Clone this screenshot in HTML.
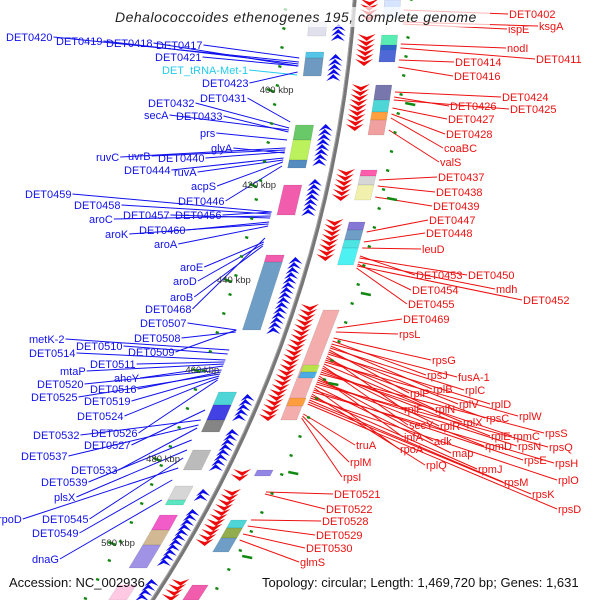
<!DOCTYPE html>
<html><head><meta charset="utf-8">
<style>
html,body{margin:0;padding:0;background:#fff;width:600px;height:600px;overflow:hidden;}
svg{display:block;font-family:"Liberation Sans","DejaVu Sans",sans-serif;overflow:hidden;}
</style></head>
<body>
<svg id="map" width="600" height="600" viewBox="0 0 600 600" xmlns="http://www.w3.org/2000/svg">
<g id="feat"></g>
<g id="lines"></g>
<g id="labs"></g>
<circle cx="-890" cy="-85" r="1247.5" fill="none" stroke="#777" stroke-width="4"/>
<circle cx="-890" cy="-85" r="1246" fill="none" stroke="#aaa" stroke-width="1"/>
<g id="ticks"></g>
<rect x="110" y="7" width="380" height="20" fill="#fff" opacity="0.7"/>
<text x="115" y="22" font-size="14" font-style="italic" fill="#222" letter-spacing="0.5">Dehalococcoides ethenogenes 195, complete genome</text>
<text x="9" y="587" font-size="13" fill="#111">Accession: NC_002936</text>
<text x="262" y="587" font-size="13" fill="#111">Topology: circular; Length: 1,469,720 bp; Genes: 1,631</text>
</svg>
<script>
const CX=-890, CY=-85, R=1247.5;
function arcX(y){return CX+Math.sqrt(R*R-(y-CY)*(y-CY));}
const NS="http://www.w3.org/2000/svg";
function mk(tag,attrs,parent){const e=document.createElementNS(NS,tag);for(const k in attrs)e.setAttribute(k,attrs[k]);parent.appendChild(e);return e;}

const tickLabels=["400 kbp","420 kbp","440 kbp","460 kbp","480 kbp","500 kbp"];
const tickY=[93,188,283,373,462,546];

const blueNames=["DET0420","DET0419","DET0418","DET0417","DET0421","DET_tRNA-Met-1","DET0423","DET0431","DET0432","secA","DET0433","prs","glyA","ruvC","uvrB","DET0440","DET0444","ruvA","acpS","DET0446","DET0459","DET0458","aroC","DET0457","DET0456","DET0460","aroK","aroA","aroE","aroD","aroB","DET0468","DET0507","DET0508","DET0509","metK-2","DET0510","DET0514","DET0511","mtaP","ahcY","DET0520","DET0516","DET0525","DET0519","DET0524","DET0526","DET0532","DET0527","DET0537","DET0533","DET0539","plsX","rpoD","DET0545","DET0549","dnaG"];
const blueX=[6,56,106,156,155,162,202,200,148,144,176,200,211,96,128,158,124,174,191,178,25,74,89,123,175,139,105,154,180,173,170,145,140,134,128,29,76,29,90,60,114,37,90,31,84,77,91,33,84,21,71,41,54,-2,42,32,32];
const blueY=[41,45,47,49,61,74,87,102,107,119,120,137,152,161,160,162,174,176,190,205,198,209,223,219,219,234,238,248,271,285,301,313,327,342,356,343,350,357,368,375,382,388,393,401,405,420,437,439,449,460,474,486,501,523,523,537,563];
const blueT=[62,64,66,58,66,75,72,122,128,130,132,140,153,148,150,152,158,160,162,166,212,214,216,218,212,222,224,226,242,244,246,238,330,332,330,350,354,360,362,364,366,370,372,374,376,378,380,420,410,425,428,440,450,468,458,480,500];

const redNames=["DET0402","ispE","ksgA","nodI","DET0411","DET0414","DET0416","DET0424","DET0426","DET0425","DET0427","DET0428","coaBC","valS","DET0437","DET0438","DET0439","DET0447","DET0448","leuD","DET0453","DET0450","mdh","DET0454","DET0452","DET0455","DET0469","rpsL","rpsG","rpsJ","fusA-1","rplB","rplC","rplP","rplV","rplD","rplF","rplN","rpsC","rplW","rplX","secY","rplR","rplE","rpmC","rpsS","infA","adk","rpmD","rpsN","rpsQ","truA","map","rpoA","rpsE","rpsH","rplM","rplQ","rpmJ","rplO","rpsI","rpsM","rpsK","rpsD","DET0521","DET0522","DET0528","DET0529","DET0530","glmS"];
const redX=[509,508,539,507,536,455,454,502,450,510,448,446,444,440,438,436,433,429,426,422,416,468,496,412,523,408,403,399,432,427,458,433,465,410,459,491,404,435,486,519,463,409,440,491,513,545,404,434,485,518,549,356,452,400,524,555,350,426,478,558,343,504,532,558,334,326,322,316,306,300];
const redY=[18,33,30,52,63,66,80,101,110,113,123,138,152,166,181,196,210,224,237,253,279,279,293,294,304,308,323,338,364,379,381,393,394,397,408,408,413,413,422,420,426,429,430,440,440,437,441,445,450,450,451,449,457,453,464,467,466,469,473,484,481,486,498,513,498,513,525,539,552,566];
const redT=[10,24,22,44,48,60,67,92,97,100,108,114,118,130,180,186,197,232,242,248,256,258,262,264,266,268,328,332,338,341,344,346,348,350,352,354,356,358,360,362,364,366,368,370,372,374,376,378,380,382,384,414,386,388,390,392,416,394,396,398,418,400,402,404,492,494,520,526,534,540];

const featY0=[22,52,58,125,140,160,185,255,262,392,405,420,450,486,500,515,530,545,585, 0,35,45,85,100,112,120,170,176,185,222,230,240,248,310,365,372,398,470,520,528,538,585];
const featY1=[36,58,76,140,160,168,215,262,330,405,420,432,470,500,505,530,545,568,600, 18,50,62,100,112,120,135,176,185,200,230,240,248,265,420,372,378,406,476,528,538,552,600];
const featS=[-1,-1,-1,-1,-1,-1,-1,-1,-1,-1,-1,-1,-1,-1,-1,-1,-1,-1,-1, 1,1,1,1,1,1,1,1,1,1,1,1,1,1,1,1,1,1,1,1,1,1,1];
const featC=["#d8d8e8","#29b6e0","#4a7fb0","#44bb44","#aaee33","#2a6fb0","#ee3399","#ee3399","#4a86b8","#22cccc","#1111dd","#666666","#aaaaaa","#cccccc","#30e0b0","#ee33bb","#c8a878","#8877dd","#ffbbdd", "#ccddff","#30e8a0","#2244cc","#555599","#22cccc","#ff8811","#ee8888","#ff3399","#cccccc","#eeee99","#6655cc","#4a86b8","#22dddd","#22eeee","#f09898","#aaee33","#22aaee","#ff9922","#7766dd","#22cccc","#779922","#4a86b8","#ee3399"];

const arrY0=[25,55,125,180,258,395,430,490,510,580, 0,35,85,170,220,305,470,490,520,580];
const arrY1=[40,80,165,215,330,420,470,500,565,600, 20,62,130,200,260,420,478,530,545,600];
const arrS=[-1,-1,-1,-1,-1,-1,-1,-1,-1,-1, 1,1,1,1,1,1,1,1,1,1];

const feat=document.getElementById('feat');
const lines=document.getElementById('lines');
const labs=document.getElementById('labs');
const ticks=document.getElementById('ticks');

function band(y0,y1,o0,o1){
  return [[arcX(y0)+o0,y0],[arcX(y0)+o1,y0],[arcX(y1)+o1,y1],[arcX(y1)+o0,y1]].map(p=>p[0].toFixed(1)+','+p[1].toFixed(1)).join(' ');
}
for(let i=0;i<featY0.length;i++){
  const s=featS[i];
  const o=s<0?[-44,-26]:[30,46];
  const p=mk('polygon',{points:band(featY0[i],featY1[i],o[0],o[1]),fill:featC[i],'fill-opacity':0.8,stroke:'rgba(0,0,0,0.15)','stroke-width':0.5},feat);
  
  
}
for(let i=0;i<arrY0.length;i++){
  const s=arrS[i];const col=s<0?'#0a0aee':'#ee0a0a';
  for(let y=arrY0[i];y<arrY1[i];y+=5){
    const ax=arcX(y);
    let pts;
    if(s<0){const a=ax-21,b=ax-7;pts=[[a,y+6],[(a+b)/2,y-1],[b,y+6],[(a+b)/2,y+3]];}
    else{const a=ax+6,b=ax+24;pts=[[a,y-1],[(a+b)/2,y+6],[b,y-1],[(a+b)/2,y+2]];}
    const p=mk('polygon',{points:pts.map(q=>q[0].toFixed(1)+','+q[1].toFixed(1)).join(' '),fill:col},feat);
    
    
  }
}
for(let y=-10;y<600;y+=19){
  const l=mk('line',{x1:arcX(y)-70,y1:y,x2:arcX(y)-67,y2:y+1,stroke:'#118811','stroke-width':2.5},ticks);
  
  
  const r=mk('line',{x1:arcX(y+9)+55,y1:y+9,x2:arcX(y+9)+58,y2:y+10,stroke:'#118811','stroke-width':2.5},ticks);
  
  
}
for(let i=0;i<tickY.length;i++){
  const y=tickY[i];const ax=arcX(y);
  const l=mk('line',{x1:ax-78,y1:y-4,x2:ax-70,y2:y-1,stroke:'#118811','stroke-width':2.5},ticks);
  
  
  const r=mk('line',{x1:arcX(y+10)+62,y1:y+10,x2:arcX(y+10)+72,y2:y+12,stroke:'#118811','stroke-width':2.5},ticks);
  
  
  const t=mk('text',{x:ax-85,y:y,'font-size':9.5,fill:'#333'},ticks);
  t.textContent=tickLabels[i];
  
  
}
function addLabel(name,x,y,ty,side){
  const col=side<0?(name.indexOf('tRNA')>=0?'#22ccee':'#1010ee'):'#ee1010';
  const t=mk('text',{x:x,y:y,'font-size':11,fill:col},labs);
  t.textContent=name;
  
  
  let w=name.length*6.2;
  try{w=t.getComputedTextLength();}catch(e){}
  let x1,x2;
  if(side<0){x1=x+w+1;x2=arcX(ty)-50;}else{x1=x-1;x2=arcX(ty)+50;}
  const l=mk('line',{x1:x1,y1:y-4,x2:x2,y2:ty,stroke:col,'stroke-width':1},lines);
  
  
}
for(let i=0;i<blueNames.length;i++)addLabel(blueNames[i],blueX[i],blueY[i],blueT[i],-1);
for(let i=0;i<redNames.length;i++)addLabel(redNames[i],redX[i],redY[i],redT[i],1);
</script>
</body></html>
